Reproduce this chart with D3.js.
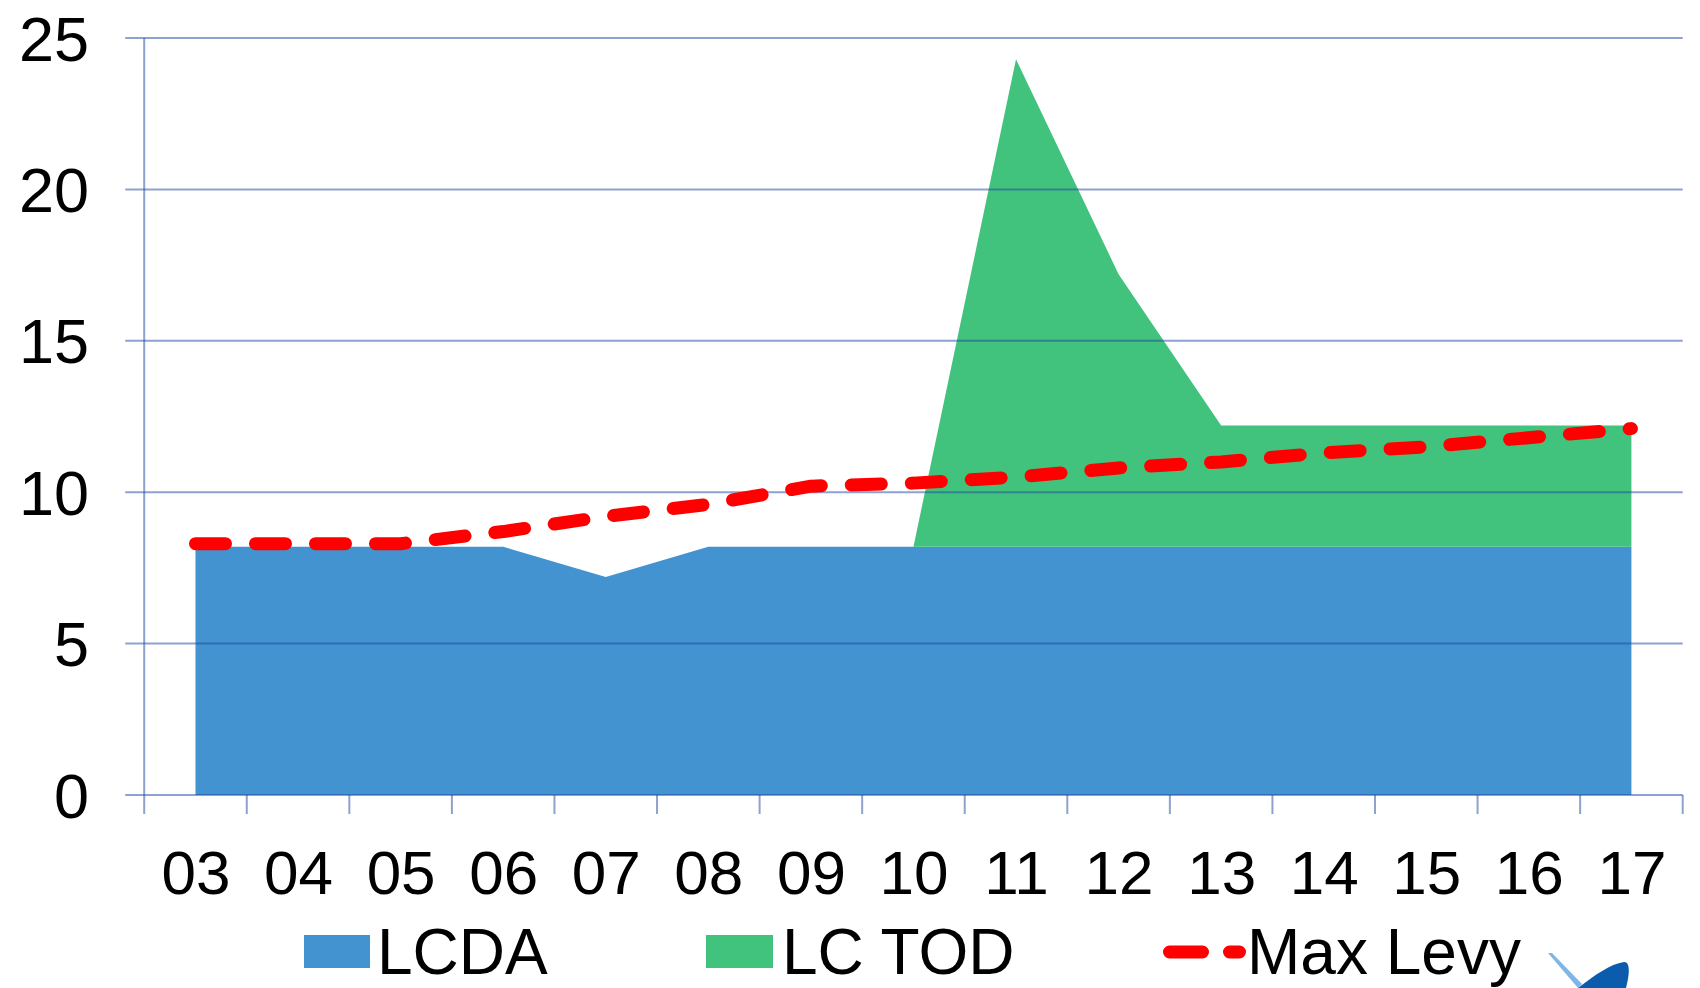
<!DOCTYPE html>
<html>
<head>
<meta charset="utf-8">
<script src="https://cdn.jsdelivr.net/npm/d3@7"></script>
<style>
  html, body { margin: 0; padding: 0; background: #ffffff; }
  svg { display: block; }
  text { font-family: "Liberation Sans", Arial, sans-serif; fill: #000; }
</style>
</head>
<body>
<svg id="chart" width="1700" height="988"></svg>
<script>
// ---- data ----
const categories = ["03","04","05","06","07","08","09","10","11","12","13","14","15","16","17"];
const lcda      = [8.2, 8.2, 8.2, 8.2, 7.2, 8.2, 8.2, 8.2, 8.2, 8.2, 8.2, 8.2, 8.2, 8.2, 8.2];
const lcTod     = [0, 0, 0, 0, 0, 0, 0, 0, 16.1, 9.0, 4.0, 4.0, 4.0, 4.0, 4.0];
const maxLevy   = [8.3, 8.3, 8.3, 8.7, 9.2, 9.6, 10.2, 10.3, 10.5, 10.8, 11.0, 11.3, 11.5, 11.8, 12.1];
const yTickValues = [0, 5, 10, 15, 20, 25];
const seriesNames = ["LCDA", "LC TOD", "Max Levy"];
const colors = { lcda: "#4293CF", tod: "#42C37D", levy: "#FF0000", grid: "#1E46A0" };

// ---- layout ----
const plotLeft = 144.2, plotRight = 1682.7, plotTop = 38, plotBottom = 795;
const svg = d3.select("#chart");

const x = d3.scalePoint().domain(categories).range([plotLeft, plotRight]).padding(0.5);
const xBand = d3.scaleBand().domain(categories).range([plotLeft, plotRight]).padding(0);
const y = d3.scaleLinear().domain([0, 25]).range([plotBottom, plotTop]);

const rows = categories.map((c, i) => ({ cat: c, lcda: lcda[i], tod: lcTod[i], levy: maxLevy[i] }));
const stacked = d3.stack().keys(["lcda", "tod"])(rows);

const area = d3.area()
  .x(d => x(d.data.cat))
  .y0(d => y(d[0]))
  .y1(d => y(d[1]));

svg.append("g").selectAll("path")
  .data(stacked)
  .join("path")
  .attr("d", area)
  .attr("fill", d => d.key === "lcda" ? colors.lcda : colors.tod);

// gridlines (drawn over the areas, semi-transparent)
svg.append("g").selectAll("line")
  .data(yTickValues)
  .join("line")
  .attr("x1", plotLeft - 19).attr("x2", plotRight)
  .attr("y1", d => y(d)).attr("y2", d => y(d))
  .attr("stroke", colors.grid).attr("stroke-opacity", 0.5).attr("stroke-width", 2);

// y axis line
svg.append("line")
  .attr("x1", plotLeft).attr("x2", plotLeft)
  .attr("y1", y(25)).attr("y2", plotBottom + 19)
  .attr("stroke", colors.grid).attr("stroke-opacity", 0.5).attr("stroke-width", 2);

// x tick marks at band boundaries
const boundaries = categories.map(c => xBand(c)).concat([xBand(categories[categories.length - 1]) + xBand.bandwidth()]);
svg.append("g").selectAll("line")
  .data(boundaries.slice(1))
  .join("line")
  .attr("x1", d => d).attr("x2", d => d)
  .attr("y1", plotBottom).attr("y2", plotBottom + 19)
  .attr("stroke", colors.grid).attr("stroke-opacity", 0.5).attr("stroke-width", 2);

// y labels
svg.append("g").selectAll("text")
  .data(yTickValues)
  .join("text")
  .attr("x", 89).attr("y", d => y(d))
  .attr("dy", "0.36em")
  .attr("text-anchor", "end")
  .style("font-size", "63px")
  .text(d => d);

// x labels via axis
const xAxis = d3.axisBottom(x).tickSize(0).tickPadding(0);
const gx = svg.append("g").attr("transform", `translate(0,${plotBottom})`).call(xAxis);
gx.select(".domain").remove();
gx.selectAll("text")
  .attr("y", 99).attr("dy", 0)
  .style("font-size", "62px")
  .style("font-family", "'Liberation Sans', Arial, sans-serif")
  .attr("fill", "#000");

// max levy dashed line
const line = d3.line().x(d => x(d.cat)).y(d => y(d.levy));
svg.append("path")
  .datum(rows)
  .attr("d", line)
  .attr("fill", "none")
  .attr("stroke", colors.levy)
  .attr("stroke-width", 13)
  .attr("stroke-linecap", "round")
  .attr("stroke-linejoin", "round")
  .attr("stroke-dasharray", "30,30");

// legend
const legendY = 952;
const lg = svg.append("g");
lg.append("rect").attr("x", 304).attr("y", 935).attr("width", 66).attr("height", 33).attr("fill", colors.lcda);
lg.append("text").attr("x", 377).attr("y", 974).style("font-size", "64px").text(seriesNames[0]);
lg.append("rect").attr("x", 706).attr("y", 935).attr("width", 67).attr("height", 33).attr("fill", colors.tod);
lg.append("text").attr("x", 782).attr("y", 974).style("font-size", "64px").text(seriesNames[1]);
lg.append("line")
  .attr("x1", 1169.5).attr("x2", 1239.5).attr("y1", legendY).attr("y2", legendY)
  .attr("stroke", colors.levy).attr("stroke-width", 13)
  .attr("stroke-linecap", "round").attr("stroke-dasharray", "33,27");
lg.append("text").attr("x", 1247).attr("y", 974).style("font-size", "64px").text(seriesNames[2]);

// partial logo in the bottom-right corner
const logo = svg.append("g");
logo.append("path")
  .attr("d", "M1548,953 L1552,953 L1582,984 L1578,988 Z")
  .attr("fill", "#7FB6E6");
logo.append("path")
  .attr("d", "M1578,988 C1595,975 1610,964 1624,962 C1630,962 1630,972 1626,988 Z")
  .attr("fill", "#0B5CAD");
</script>
</body>
</html>
